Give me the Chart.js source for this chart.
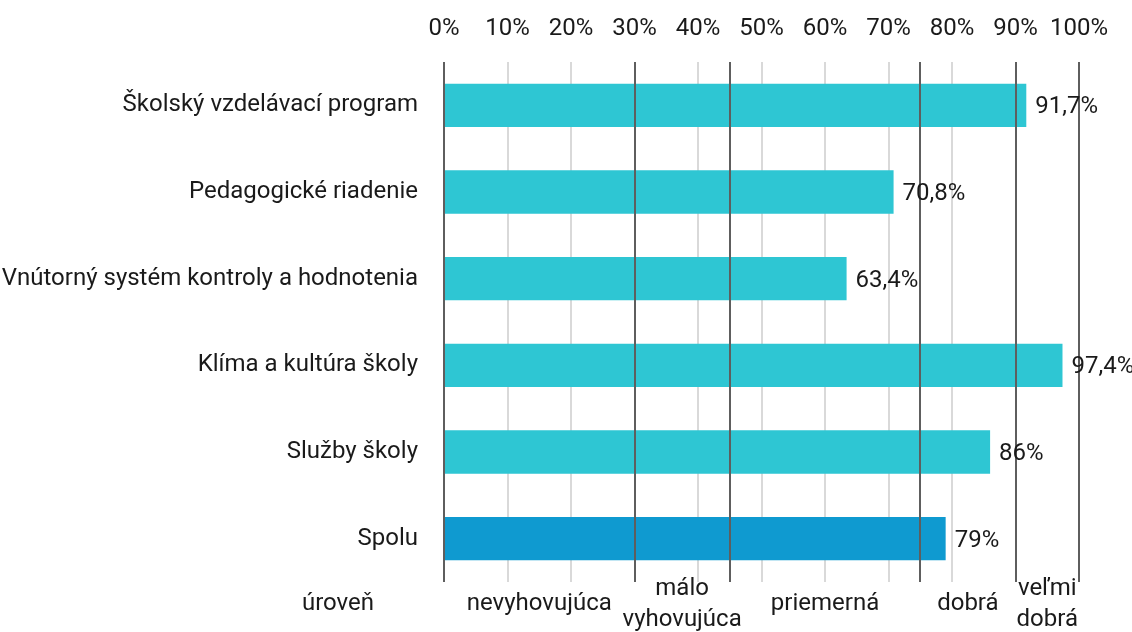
<!DOCTYPE html>
<html>
<head>
<meta charset="utf-8">
<script src="https://cdn.jsdelivr.net/npm/chart.js@4.4.1/dist/chart.umd.min.js"></script>
<style>
  html, body { margin: 0; padding: 0; background: #fff; }
  #wrap { width: 1132px; height: 632px; position: relative; }
</style>
</head>
<body>
<div id="wrap"><canvas id="chart"></canvas></div>
<script>
// data
var categories = [
	"Školský vzdelávací program",
	"Pedagogické riadenie",
	"Vnútorný systém kontroly a hodnotenia",
	"Klíma a kultúra školy",
	"Služby školy",
	"Spolu"
];
var values = [91.7, 70.8, 63.4, 97.4, 86, 79];
var barColors = ["#2ec6d3", "#2ec6d3", "#2ec6d3", "#2ec6d3", "#2ec6d3", "#0f9ad0"];

// level boundaries (dark lines) and level names under the chart
var levelBounds = [0, 30, 45, 75, 90, 100];
var levelNames = [["nevyhovujúca"], ["málo", "vyhovujúca"], ["priemerná"], ["dobrá"], ["veľmi", "dobrá"]];
var levelTitle = "úroveň";

var FONT = "'Roboto', sans-serif";
var TEXT = "#1a1a1a";

var levelsPlugin = {
	id: "levels",
	afterDatasetsDraw: function(chart) {
		var ctx = chart.ctx;
		var x = chart.scales.x;
		var area = chart.chartArea;
		ctx.save();
		// dark level lines
		ctx.strokeStyle = "#5e5e5e";
		ctx.lineWidth = 2;
		levelBounds.forEach(function(b) {
			var px = Math.round(x.getPixelForValue(b));
			ctx.beginPath();
			ctx.moveTo(px, area.top);
			ctx.lineTo(px, area.bottom);
			ctx.stroke();
		});
		// value labels
		ctx.font = "24px " + FONT;
		ctx.fillStyle = TEXT;
		ctx.textAlign = "left";
		ctx.textBaseline = "middle";
		var meta = chart.getDatasetMeta(0);
		meta.data.forEach(function(bar, i) {
			var txt = String(values[i]).replace(".", ",") + "%";
			ctx.fillText(txt, bar.x + 9, bar.y + 2);
		});
		// level names below
		ctx.textAlign = "center";
		for (var i = 0; i < levelNames.length; i++) {
			var cx = (x.getPixelForValue(levelBounds[i]) + x.getPixelForValue(levelBounds[i + 1])) / 2;
			var lines = levelNames[i];
			var y0 = lines.length == 1 ? area.bottom + 22 : area.bottom + 7;
			lines.forEach(function(l, j) {
				ctx.fillText(l, cx, y0 + j * 31);
			});
		}
		ctx.fillText(levelTitle, area.left - 106, area.bottom + 22);
		ctx.restore();
	}
};

var myChart = new Chart(document.getElementById("chart"), {
	type: "bar",
	data: {
		labels: categories,
		datasets: [{
			data: values,
			backgroundColor: barColors,
			borderWidth: 0,
			barPercentage: 0.5,
			categoryPercentage: 1.0
		}]
	},
	options: {
		indexAxis: "y",
		responsive: true,
		maintainAspectRatio: false,
		animation: false,
		layout: { padding: { left: 0, right: 53, top: 0, bottom: 50 } },
		plugins: {
			legend: { display: false },
			tooltip: { enabled: false }
		},
		scales: {
			x: {
				position: "top",
				min: 0,
				max: 100,
				ticks: {
					stepSize: 10,
					padding: 19,
					maxRotation: 0,
					minRotation: 0,
					autoSkip: false,
					color: TEXT,
					font: { family: FONT, size: 24 },
					callback: function(v) { return v + "%"; }
				},
				grid: { color: "#d9d9d9", lineWidth: 2, drawTicks: false },
				border: { display: false },
				afterFit: function(s) { s.height = 62; }
			},
			y: {
				ticks: {
					padding: 26,
					color: TEXT,
					font: { family: FONT, size: 24 }
				},
				grid: { display: false, drawTicks: false },
				border: { display: false },
				afterFit: function(s) { s.width = 444; }
			}
		}
	},
	plugins: [levelsPlugin]
});
</script>
</body>
</html>
